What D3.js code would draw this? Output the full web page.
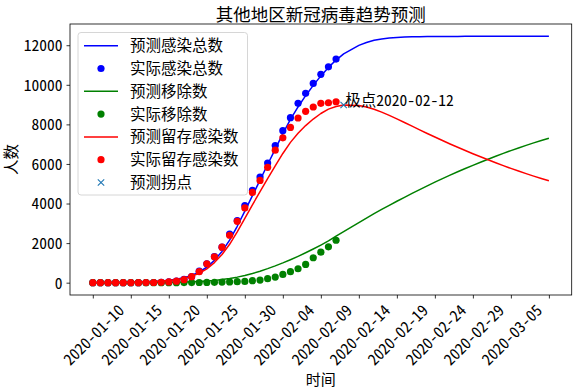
<!DOCTYPE html>
<html><head><meta charset="utf-8">
<script src="https://cdn.jsdelivr.net/npm/d3@7/dist/d3.min.js"></script>
<style>
body{margin:0;background:#fff}
svg text{font-family:"Noto Sans CJK SC","Noto Sans",sans-serif;font-feature-settings:"hwid" 1;fill:#000}
</style></head><body>
<svg id="c" width="580" height="390"></svg>
<script>
// ---- data ----
const startDate = "2020-01-10";
const titleText = "其他地区新冠病毒趋势预测";
const xLabel = "时间";
const yLabel = "人数";
const seriesNames = ["预测感染总数","实际感染总数","预测移除数","实际移除数","预测留存感染数","实际留存感染数","预测拐点"];
const peakLabel = "极点2020-02-12";
const peakDay = 33;

const actualTotal = [0,0,0,0,0,0,1,5,10,20,40,80,166,302,584,957,1324,1793,2450,3137,3900,4663,5337,6042,6930,7684,8338,9063,9567,10070,10530,10906,11300];
const actualRemoved = [0,0,0,0,0,0,0,0,0,0,0,2,3,5,10,15,20,30,40,50,65,100,131,201,282,418,554,705,921,1259,1541,1813,2145];
const actualCurrent = [0,0,0,0,0,0,1,5,10,20,40,78,150,302,554,957,1309,1793,2397,3102,3776,4562,5166,5831,6695,7318,7845,8323,8660,8877,9063,9094,9144];

const predTotal = [7,9,12,15,20,27,36,49,66,91,125,176,254,370,540,780,1130,1580,2150,2850,3620,4400,5180,5970,6750,7530,8250,8880,9450,9970,10450,10880,11250,11560,11780,11990,12140,12250,12320,12365,12392,12410,12422,12430,12436,12440,12443,12445,12447,12448,12449,12450,12450,12450,12450,12450,12450,12450,12450,12450,12450];
const predRemoved = [0,0,1,1,2,3,4,6,8,11,16,22,31,44,62,85,115,155,210,280,365,465,580,710,850,1000,1160,1330,1510,1700,1900,2110,2350,2580,2810,3040,3265,3485,3700,3910,4115,4315,4510,4705,4895,5080,5260,5435,5605,5770,5930,6085,6240,6390,6535,6675,6810,6940,7065,7185,7300];
const predCurrent = [7,9,11,14,18,24,32,43,58,80,109,154,223,326,478,695,1015,1425,1940,2570,3255,3935,4600,5260,5900,6530,7090,7550,7940,8270,8550,8770,8900,8980,8970,8950,8875,8765,8620,8455,8277,8095,7912,7725,7541,7360,7183,7010,6842,6678,6519,6365,6210,6060,5915,5775,5640,5510,5385,5265,5150];

const xTickLabels = ["2020-01-10","2020-01-15","2020-01-20","2020-01-25","2020-01-30","2020-02-04","2020-02-09","2020-02-14","2020-02-19","2020-02-24","2020-02-29","2020-03-05"];
const yTicks = [0,2000,4000,6000,8000,10000,12000];

// ---- layout ----
const svg = d3.select("#c");
const L = 70, R = 571.7, T = 24, B = 295;
const parse = d3.utcParse("%Y-%m-%d");
const d0 = parse(startDate);
const dayToDate = i => d3.utcDay.offset(d0, i);
const nPred = predTotal.length;
const x = d3.scaleUtc()
  .domain([dayToDate(-0.05*(nPred-1)), dayToDate((nPred-1)*1.05)])
  .range([L, R]);
const ymax = d3.max(predTotal);
const y = d3.scaleLinear().domain([-0.05*ymax, ymax*1.05]).range([B, T]);

svg.append("rect").attr("width",580).attr("height",390).attr("fill","#fff");

// lines & dots
const line = d3.line().x((d,i)=>x(dayToDate(i))).y(d=>y(d));
function drawLine(data, color){
  svg.append("path").datum(data).attr("d", line).attr("fill","none")
    .attr("stroke", color).attr("stroke-width",1.5).attr("stroke-linejoin","round");
}
function drawDots(data, color){
  svg.append("g").selectAll("circle").data(data).join("circle")
    .attr("cx",(d,i)=>x(dayToDate(i))).attr("cy",d=>y(d)).attr("r",3.6).attr("fill",color);
}
drawLine(predTotal, "#0000ff");
drawDots(actualTotal, "#0000ff");
drawLine(predRemoved, "#008000");
drawDots(actualRemoved, "#008000");
drawLine(predCurrent, "#ff0000");
drawDots(actualCurrent, "#ff0000");

// peak marker
const px = x(dayToDate(peakDay)), py = y(predCurrent[peakDay]);
function xMark(g, cx, cy){
  g.append("path").attr("d",`M${cx-3.2},${cy-3.2}L${cx+3.2},${cy+3.2}M${cx-3.2},${cy+3.2}L${cx+3.2},${cy-3.2}`)
    .attr("stroke","#1f77b4").attr("stroke-width",1.1).attr("fill","none");
}
xMark(svg, px, py);
svg.append("text").attr("x",px+1.5).attr("y",py+1.5).attr("font-size",15.5).text(peakLabel);

// axes frame
svg.append("rect").attr("x",L).attr("y",T).attr("width",R-L).attr("height",B-T)
  .attr("fill","none").attr("stroke","#000").attr("stroke-width",0.8);

// x axis
const xTickDates = d3.range(0, nPred, 5).map(dayToDate);
const xa = svg.append("g").attr("transform",`translate(0,${B})`)
  .call(d3.axisBottom(x).tickValues(xTickDates).tickSize(3.5).tickFormat(()=>""));
xa.select(".domain").remove();
xa.selectAll("line").attr("stroke","#000").attr("stroke-width",0.8);
svg.append("g").selectAll("text").data(xTickLabels).join("text")
  .attr("transform",(d,i)=>`translate(${x(xTickDates[i])},${B+39}) rotate(-45)`)
  .attr("text-anchor","middle").attr("dominant-baseline","central")
  .attr("font-size",15.5).text(d=>d);

// y axis
const ya = svg.append("g").attr("transform",`translate(${L},0)`)
  .call(d3.axisLeft(y).tickValues(yTicks).tickSize(3.5).tickFormat(d3.format("d")));
ya.select(".domain").remove();
ya.selectAll("line").attr("stroke","#000").attr("stroke-width",0.8);
ya.selectAll("text").attr("font-size",15.5).attr("x",-7.5).attr("dy","0.35em")
  .style("font-family",'"Noto Sans CJK SC",sans-serif').attr("fill","#000");

// labels
svg.append("text").attr("x",(L+R)/2).attr("y",20.5).attr("text-anchor","middle")
  .attr("font-size",17.5).text(titleText);
svg.append("text").attr("x",(L+R)/2).attr("y",385).attr("text-anchor","middle")
  .attr("font-size",15).text(xLabel);
svg.append("text").attr("transform",`translate(17,${(T+B)/2}) rotate(-90)`).attr("text-anchor","middle")
  .attr("font-size",15.5).text(yLabel);

// legend
const lg = svg.append("g");
lg.append("rect").attr("x",78).attr("y",32.5).attr("width",169.5).attr("height",162.5).attr("rx",3)
  .attr("fill","#fff").attr("fill-opacity",0.8).attr("stroke","#cccccc").attr("stroke-width",0.8);
const legendItems = [
  {type:"line", color:"#0000ff"},{type:"dot", color:"#0000ff"},
  {type:"line", color:"#008000"},{type:"dot", color:"#008000"},
  {type:"line", color:"#ff0000"},{type:"dot", color:"#ff0000"},
  {type:"x", color:"#1f77b4"}];
legendItems.forEach((it,i)=>{
  const cy = 45.7 + i*22.8;
  if(it.type==="line") lg.append("line").attr("x1",84).attr("x2",118).attr("y1",cy).attr("y2",cy)
      .attr("stroke",it.color).attr("stroke-width",1.5);
  else if(it.type==="dot") lg.append("circle").attr("cx",101).attr("cy",cy).attr("r",3.6).attr("fill",it.color);
  else xMark(lg, 101, cy);
  lg.append("text").attr("x",130).attr("y",cy).attr("dy","0.36em").attr("font-size",15.5).text(seriesNames[i]);
});
</script>
</body></html>
